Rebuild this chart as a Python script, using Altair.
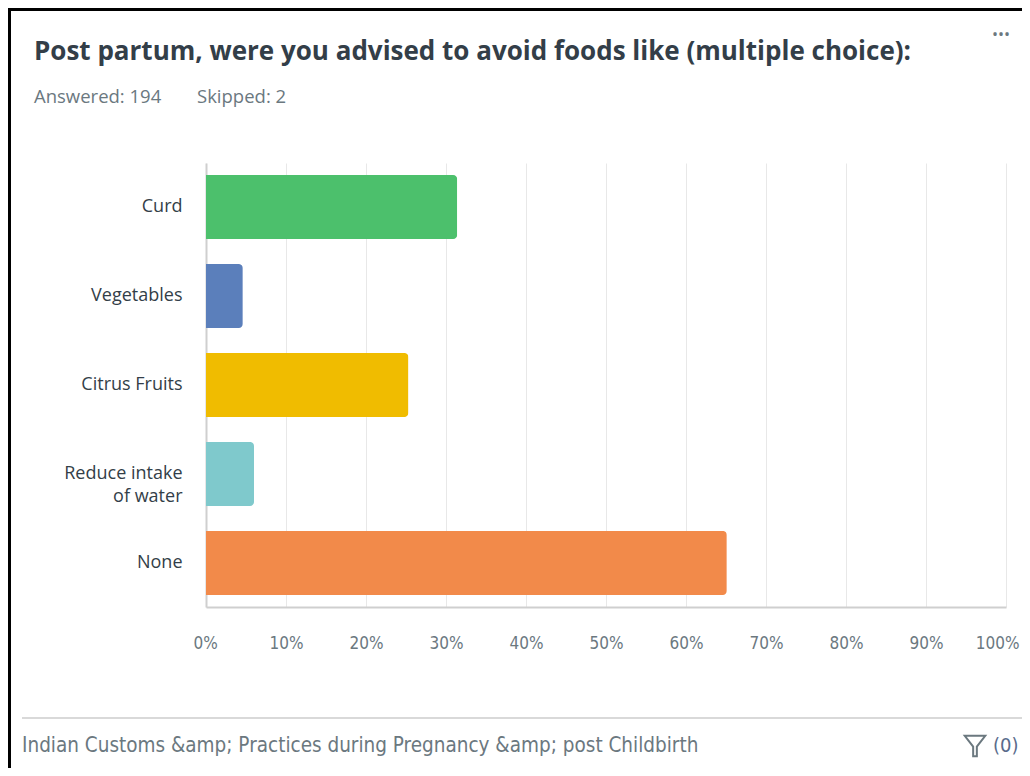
import altair as alt
import pandas as pd

categories = ["Curd", "Vegetables", "Citrus Fruits", "Reduce intake of water", "None"]
percents = [31.4, 4.6, 25.3, 6.0, 65.1]
colors = ["#4cc06c", "#5b7fbb", "#f0bc00", "#7fc9cc", "#f28a4a"]
tick_values = [0, 10, 20, 30, 40, 50, 60, 70, 80, 90, 100]

title_text = "Post partum, were you advised to avoid foods like (multiple choice):"
answered_text = "Answered: 194"
skipped_text = "Skipped: 2"
footer_text = "Indian Customs &amp; Practices during Pregnancy &amp; post Childbirth"
filter_count = "(0)"

FONT = "Open Sans"
COND = "DejaVu Sans Condensed, Liberation Sans Narrow, Roboto"
DARK = "#333e48"
GRAY = "#6b787f"

df = pd.DataFrame({"answer": categories, "pct": percents})
one = pd.DataFrame({"k": [0]})

bars = alt.Chart(df).mark_bar(cornerRadiusEnd=4).encode(
    y=alt.Y(
        "answer:N",
        sort=categories,
        title=None,
        scale=alt.Scale(paddingInner=0.28, paddingOuter=0.135),
        axis=alt.Axis(
            ticks=False,
            domain=True,
            domainColor="#cfcfcf",
            domainWidth=2,
            labelFont=FONT,
            labelFontSize=18,
            labelColor=DARK,
            labelPadding=24,
            labelLineHeight=23,
            labelLimit=300,
            labelExpr="datum.value == 'Reduce intake of water' ? ['Reduce intake', 'of water'] : datum.value",
        ),
    ),
    x=alt.X(
        "pct:Q",
        title=None,
        scale=alt.Scale(domain=[0, 100], nice=False),
        axis=alt.Axis(
            values=tick_values,
            labelExpr="datum.value + '%'",
            ticks=False,
            grid=True,
            gridColor="#e8e8e8",
            gridWidth=1,
            domain=True,
            domainColor="#cfcfcf",
            domainWidth=2,
            labelFlush=True,
            labelFlushOffset=13,
            labelFont=COND,
            labelFontSize=17,
            labelColor=GRAY,
            labelPadding=28,
        ),
    ),
    color=alt.Color("answer:N", scale=alt.Scale(domain=categories, range=colors), legend=None),
)

def txt(text, x, y, size, color, weight="normal", align="left", font=FONT):
    return alt.Chart(one).mark_text(
        text=text, align=align, baseline="middle", fontSize=size,
        fontWeight=weight, color=color, font=font,
    ).encode(x=alt.value(x), y=alt.value(y))

title = txt(title_text, -172, -111, 26, DARK, "bold")
answered = txt(answered_text, -172, -66, 18.5, GRAY)
skipped = txt(skipped_text, -9, -66, 18.5, GRAY)
dots = txt("•••", 795, -128, 16, GRAY, align="center")
footer = txt(footer_text, -184, 583, 20.5, GRAY, font=COND)
count = txt(filter_count, 787, 583, 20, "#5a6b8c", font=COND)

funnel = alt.Chart(one).mark_point(
    shape="M-1,-1 L1,-1 L0.18,0.05 L0.18,1 L-0.18,1 L-0.18,0.05 Z",
    size=420, filled=False, stroke="#6b787f", strokeWidth=2, opacity=1,
).encode(x=alt.value(769), y=alt.value(583))

footer_line = alt.Chart(one).mark_rule(color="#d9d9d9", strokeWidth=2).encode(
    x=alt.value(-184), x2=alt.value(816), y=alt.value(555)
)
left_border = alt.Chart(one).mark_rule(color="#000000", strokeWidth=3).encode(
    x=alt.value(-196.5), y=alt.value(-155), y2=alt.value(605)
)
top_border = alt.Chart(one).mark_rule(color="#000000", strokeWidth=3).encode(
    x=alt.value(-198), x2=alt.value(816), y=alt.value(-153.5)
)

chart = alt.layer(
    bars, title, answered, skipped, dots, footer, count, funnel,
    footer_line, left_border, top_border,
).properties(
    width=800,
    height=444,
    autosize=alt.AutoSizeParams(type="none"),
    padding={"left": 198, "top": 155, "right": 16, "bottom": 161},
    background="white",
).configure_view(stroke=None)

chart.save("out.html", embed_options={"renderer": "svg", "actions": False})
